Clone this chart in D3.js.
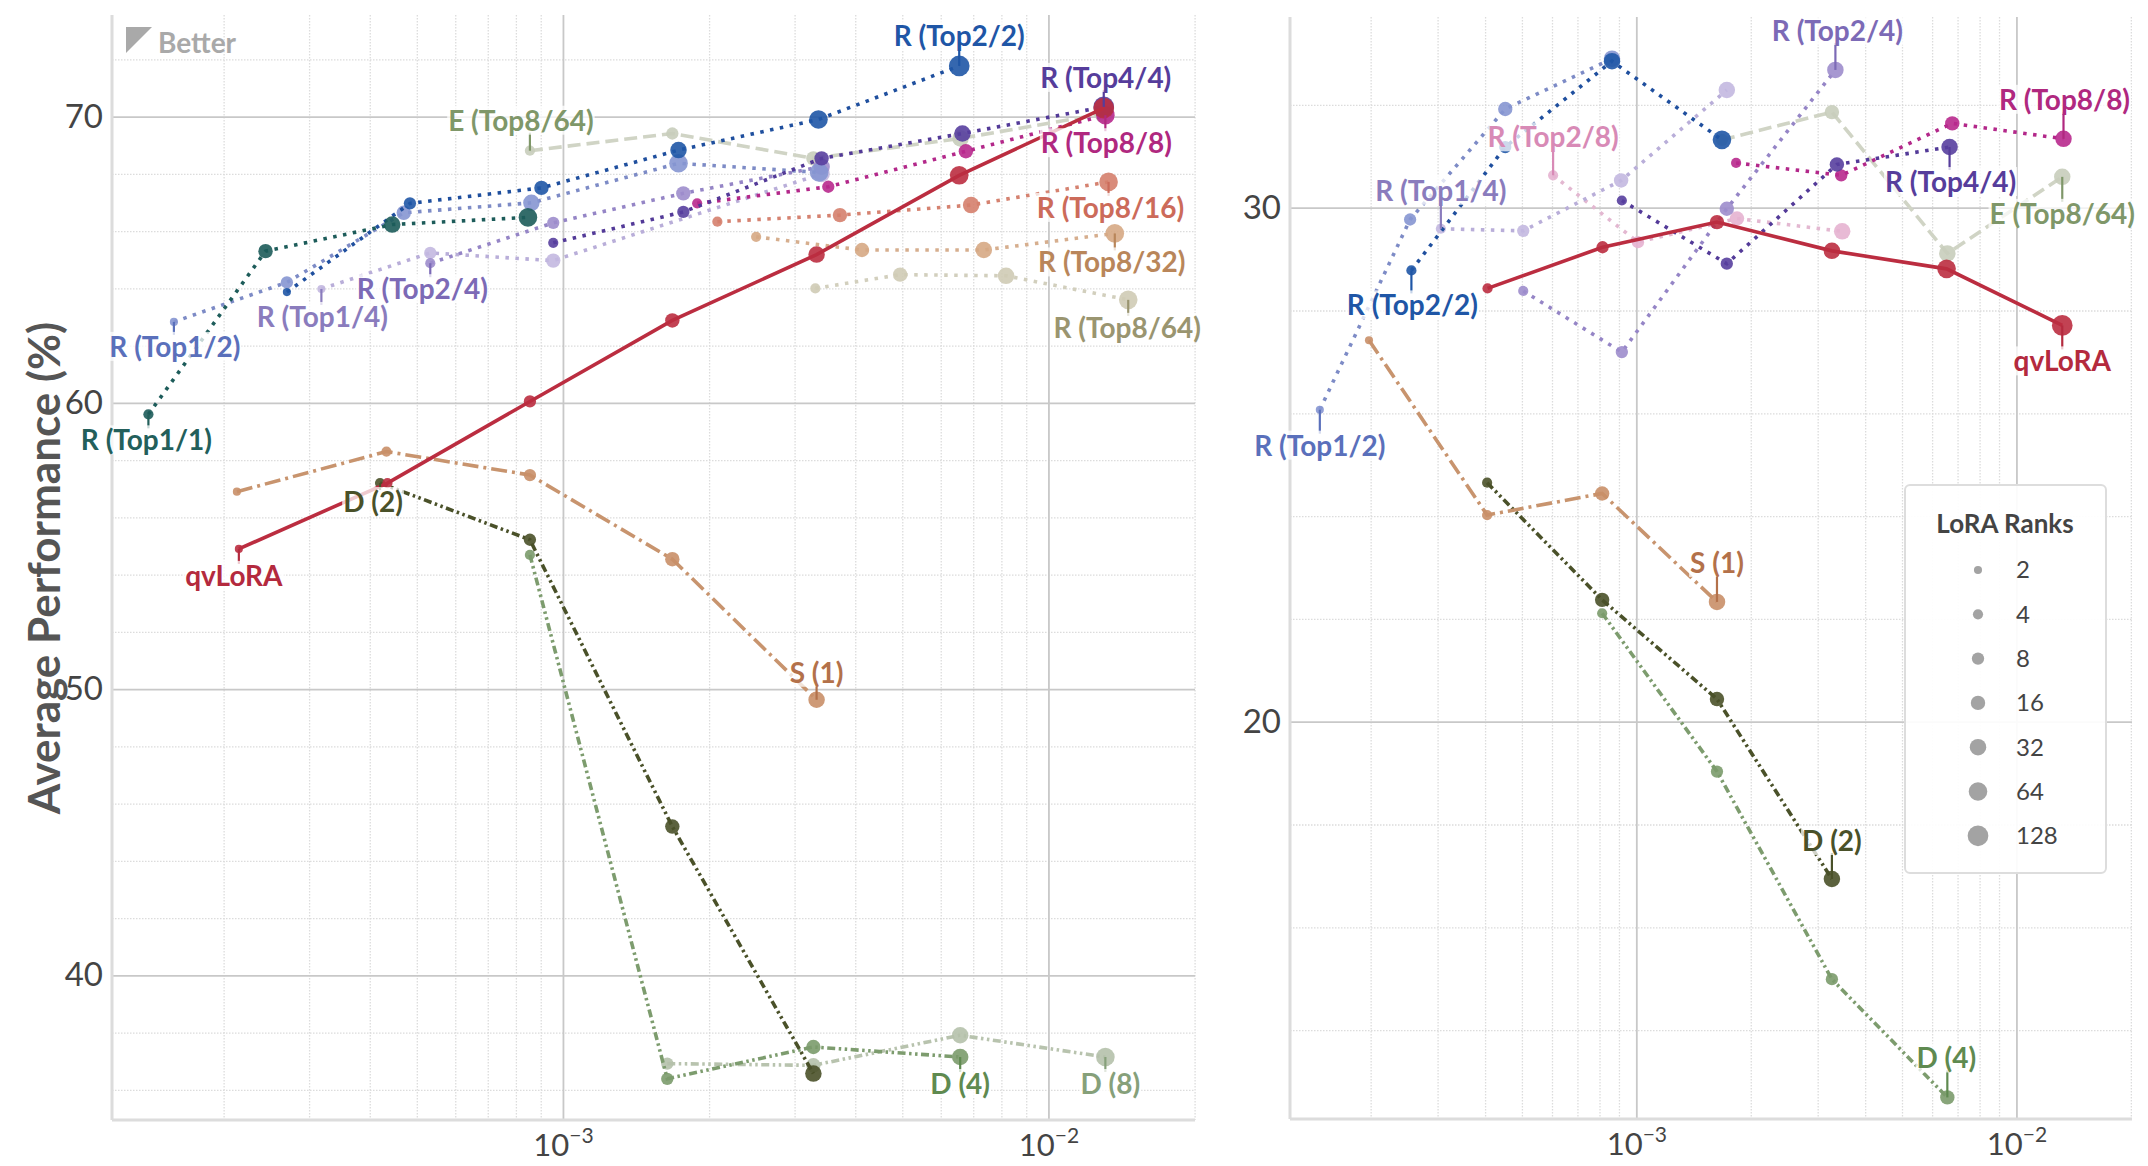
<!DOCTYPE html>
<html>
<head>
<meta charset="utf-8">
<script src="https://cdn.jsdelivr.net/npm/d3@7"></script>
<style>
  body { margin:0; background:#fff; }
  text { font-family: Lato, "Open Sans", sans-serif; }
</style>
</head>
<body>
<svg id="chart" width="2148" height="1166"></svg>
<script>
// points are [x, average performance, LoRA rank]
// ---- left panel ----
var L_qvLoRA = [[2.15e-4,54.9,2],[4.35e-4,57.2,4],[8.55e-4,60.05,8],[1.68e-3,62.88,16],[3.33e-3,65.18,32],[6.55e-3,67.95,64],[1.30e-2,70.3,128]];
var L_S1   = [[2.13e-4,56.9,2],[4.33e-4,58.3,4],[8.55e-4,57.48,8],[1.68e-3,54.54,16],[3.33e-3,49.63,32]];
var L_D2   = [[4.2e-4,57.2,4],[8.55e-4,55.22,8],[1.68e-3,45.2,16],[3.28e-3,36.57,32]];
var L_D4   = [[8.55e-4,54.69,4],[1.64e-3,36.39,8],[3.28e-3,37.5,16],[6.58e-3,37.15,32]];
var L_D8   = [[1.64e-3,36.92,8],[3.28e-3,36.86,16],[6.58e-3,37.91,32],[1.31e-2,37.15,64]];
var L_R1_1 = [[1.40e-4,59.6,4],[2.44e-4,65.3,16],[4.45e-4,66.23,32],[8.47e-4,66.48,64]];
var L_R1_2 = [[1.58e-4,62.83,2],[2.70e-4,64.21,8],[4.70e-4,66.64,16],[8.61e-4,66.99,32],[1.73e-3,68.37,64],[3.37e-3,68.05,64]];
var L_R2_2 = [[2.70e-4,63.87,2],[4.84e-4,66.97,8],[9.03e-4,67.51,16],[1.73e-3,68.83,32],[3.36e-3,69.9,64],[6.55e-3,71.77,128]];
var L_R1_4 = [[3.18e-4,63.98,2],[5.33e-4,65.24,8],[9.55e-4,64.97,16],[3.41e-3,68.0,32]];
var L_R2_4 = [[5.33e-4,64.88,4],[9.55e-4,66.29,8],[1.77e-3,67.32,16],[3.41e-3,68.25,32]];
var L_R4_4 = [[9.55e-4,65.59,4],[1.77e-3,66.67,8],[3.41e-3,68.54,16],[6.65e-3,69.41,32],[1.30e-2,70.34,128]];
var L_R8_8 = [[1.89e-3,66.97,4],[3.52e-3,67.55,8],[6.76e-3,68.79,16],[1.31e-2,70.05,64]];
var L_R8_16 = [[2.08e-3,66.33,4],[3.72e-3,66.56,16],[6.93e-3,66.91,32],[1.33e-2,67.72,64]];
var L_R8_32 = [[2.50e-3,65.8,4],[4.13e-3,65.34,16],[7.36e-3,65.34,32],[1.37e-2,65.92,64]];
var L_R8_64 = [[3.31e-3,64.0,4],[4.95e-3,64.48,16],[8.18e-3,64.44,32],[1.46e-2,63.6,64]];
var L_E8_64 = [[8.55e-4,68.81,4],[1.68e-3,69.41,8],[3.28e-3,68.54,16],[6.59e-3,69.24,32],[1.30e-2,70.1,64]];

// ---- right panel ----
var R_qvLoRA = [[4.06e-4,28.43,4],[8.15e-4,29.23,8],[1.63e-3,29.72,16],[3.27e-3,29.16,32],[6.55e-3,28.81,64],[1.32e-2,27.71,128]];
var R_S1   = [[1.98e-4,27.42,2],[4.05e-4,24.02,4],[8.13e-4,24.44,16],[1.63e-3,22.33,32]];
var R_D2   = [[4.05e-4,24.65,4],[8.13e-4,22.37,16],[1.63e-3,20.44,16],[3.27e-3,16.94,32]];
var R_D4   = [[8.13e-4,22.11,4],[1.63e-3,19.03,8],[3.27e-3,14.99,8],[6.58e-3,12.69,16]];
var R_R1_2 = [[1.47e-4,26.07,2],[2.54e-4,29.77,8],[4.52e-4,31.92,16],[8.63e-4,32.9,32]];
var R_R2_2 = [[2.56e-4,28.78,4],[4.52e-4,31.18,8],[8.63e-4,32.85,32],[1.68e-3,31.32,64]];
var R_R1_4 = [[3.06e-4,29.59,4],[5.04e-4,29.55,8],[9.12e-4,30.53,16],[1.73e-3,32.29,32]];
var R_R2_8 = [[6.04e-4,30.63,4],[1.01e-3,29.33,8],[1.84e-3,29.79,16],[3.48e-3,29.54,32]];
var R_R2_4 = [[5.04e-4,28.38,4],[9.16e-4,27.19,8],[1.73e-3,29.98,16],[3.34e-3,32.68,32]];
var R_R4_4 = [[9.16e-4,30.14,4],[1.73e-3,28.91,8],[3.37e-3,30.84,16],[6.67e-3,31.18,32]];
var R_R8_8 = [[1.83e-3,30.87,4],[3.46e-3,30.63,8],[6.78e-3,31.64,16],[1.33e-2,31.34,32]];
var R_E8_64 = [[1.68e-3,31.32,8],[3.27e-3,31.86,16],[6.58e-3,29.11,32],[1.32e-2,30.6,32]];

// ticks
var xTicks = [1e-3, 1e-2];
var leftYTicks = [40, 50, 60, 70];
var rightYTicks = [20, 30];
var legendRanks = [2, 4, 8, 16, 32, 64, 128];

// drawing order (back to front)
var leftSeries = [
  ["E (Top8/64)", L_E8_64], ["R (Top8/64)", L_R8_64], ["R (Top8/32)", L_R8_32], ["R (Top8/16)", L_R8_16],
  ["R (Top1/4)", L_R1_4], ["R (Top2/4)", L_R2_4], ["R (Top1/2)", L_R1_2], ["R (Top8/8)", L_R8_8],
  ["R (Top4/4)", L_R4_4], ["R (Top2/2)", L_R2_2], ["R (Top1/1)", L_R1_1],
  ["D (8)", L_D8], ["D (4)", L_D4], ["D (2)", L_D2], ["S (1)", L_S1], ["qvLoRA", L_qvLoRA]
];
var rightSeries = [
  ["E (Top8/64)", R_E8_64], ["R (Top2/8)", R_R2_8], ["R (Top1/4)", R_R1_4], ["R (Top2/4)", R_R2_4],
  ["R (Top1/2)", R_R1_2], ["R (Top8/8)", R_R8_8], ["R (Top4/4)", R_R4_4], ["R (Top2/2)", R_R2_2],
  ["D (4)", R_D4], ["D (2)", R_D2], ["S (1)", R_S1], ["qvLoRA", R_qvLoRA]
];

// label: series, point index, dx, dy (offset of text centre from the point)
var leftLabels = [
  ["R (Top2/2)",5,0,-30], ["R (Top4/4)",4,2,-29], ["R (Top8/8)",3,1,28], ["R (Top8/16)",3,2,26],
  ["R (Top8/32)",3,-3,29], ["R (Top8/64)",3,-1,28], ["E (Top8/64)",0,-9,-30], ["R (Top1/2)",0,1,25],
  ["R (Top1/1)",0,-2,26], ["R (Top1/4)",0,1,28], ["R (Top2/4)",0,-8,26], ["D (2)",0,-7,19],
  ["qvLoRA",0,-5,27], ["S (1)",4,0,-27], ["D (4)",3,0,27], ["D (8)",3,5,27]
];
var rightLabels = [
  ["R (Top1/2)",0,0,36], ["R (Top2/2)",0,1,35], ["R (Top1/4)",0,0,-38], ["R (Top2/8)",0,0,-38],
  ["R (Top2/4)",3,2,-39], ["R (Top8/8)",3,1,-39], ["R (Top4/4)",3,1,35], ["E (Top8/64)",3,0,37],
  ["qvLoRA",5,0,36], ["S (1)",3,0,-39], ["D (2)",3,0,-38], ["D (4)",3,-1,-39]
];

var DOT = "3.5,6.5", DASH = "13,6", DASHDOT = "16,5,3,5", DDD = "8,3.5,2.5,3.5,2.5,3.5";
var styles = {
  "qvLoRA":      {line:"#bb2d40", dot:"#bb2d40", text:"#b42a3e", dash:null},
  "R (Top1/1)":  {line:"#1d5c5a", dot:"#1d5c5a", text:"#235f5b", dash:DOT},
  "R (Top1/2)":  {line:"#7d8bc6", dot:"#8696d2", text:"#5a70bb", dash:DOT},
  "R (Top2/2)":  {line:"#1f4f9e", dot:"#1f56a6", text:"#1f56a6", dash:DOT},
  "R (Top1/4)":  {line:"#b9aed9", dot:"#c3b8e0", text:"#8a7cbd", dash:DOT},
  "R (Top2/4)":  {line:"#9585c6", dot:"#9d8dcc", text:"#7c6ab6", dash:DOT},
  "R (Top4/4)":  {line:"#533a98", dot:"#583f9e", text:"#563d9b", dash:DOT},
  "R (Top2/8)":  {line:"#e3b8d1", dot:"#e6b3d0", text:"#d88ab6", dash:DOT},
  "R (Top8/8)":  {line:"#b3288a", dot:"#b8298d", text:"#b0287f", dash:DOT},
  "R (Top8/16)": {line:"#d58270", dot:"#d5806d", text:"#cc6b5a", dash:DOT},
  "R (Top8/32)": {line:"#d6ae8e", dot:"#d6a884", text:"#b9865a", dash:DOT},
  "R (Top8/64)": {line:"#d2cfbd", dot:"#cfcbb5", text:"#9a9570", dash:DOT},
  "E (Top8/64)": {line:"#d0d4c5", dot:"#c8cdbb", text:"#7f9769", dash:DASH},
  "S (1)":       {line:"#c8946e", dot:"#c98f68", text:"#b3714a", dash:DASHDOT},
  "D (2)":       {line:"#4a5129", dot:"#4a5129", text:"#4a5129", dash:DDD},
  "D (4)":       {line:"#7d9c6e", dot:"#7b9b6b", text:"#5f8a50", dash:DDD},
  "D (8)":       {line:"#b8c3ae", dot:"#b5c1ab", text:"#86a07a", dash:DDD}
};

var svg = d3.select("#chart");
var rScale = d3.scaleLinear().domain([1, 7]).range([4.05, 10.35]);

function panel(opt) {
  var w = opt.right - opt.left, h = opt.bottom - opt.top;
  var g = svg.append("g").attr("transform", "translate(" + opt.left + "," + opt.top + ")");
  var x = d3.scaleLog().domain(opt.xDomain).range([0, w]);
  var y = d3.scaleLinear().domain(opt.yDomain).range([h, 0]);

  var isPow = function(v) { var l = Math.log10(v); return Math.abs(l - Math.round(l)) < 1e-6; };
  var xMinor = x.ticks().filter(function(v) { return !isPow(v); });
  var yMinor = d3.range(Math.ceil(opt.yDomain[0] / 2) * 2, opt.yDomain[1], 2).filter(function(v) { return v % 10 !== 0; });

  // minor grid
  g.append("g").call(d3.axisBottom(x).tickValues(xMinor).tickSize(h).tickFormat(""))
    .call(function(a) { a.select(".domain").remove(); })
    .selectAll("line").attr("stroke", "#dcdcdc").attr("stroke-width", 1.3).attr("stroke-dasharray", "1.5,1.5");
  g.append("g").call(d3.axisRight(y).tickValues(yMinor).tickSize(w).tickFormat(""))
    .call(function(a) { a.select(".domain").remove(); })
    .selectAll("line").attr("stroke", "#dcdcdc").attr("stroke-width", 1.3).attr("stroke-dasharray", "1.5,1.5");
  // major grid
  g.append("g").call(d3.axisBottom(x).tickValues(xTicks).tickSize(h).tickFormat(""))
    .call(function(a) { a.select(".domain").remove(); })
    .selectAll("line").attr("stroke", "#c8c8c8").attr("stroke-width", 1.8);
  g.append("g").call(d3.axisRight(y).tickValues(opt.yTicks).tickSize(w).tickFormat(""))
    .call(function(a) { a.select(".domain").remove(); })
    .selectAll("line").attr("stroke", "#c8c8c8").attr("stroke-width", 1.8);

  // spines
  g.append("line").attr("x1", 0).attr("x2", 0).attr("y1", 0).attr("y2", h).attr("stroke", "#dcdcdc").attr("stroke-width", 3);
  g.append("line").attr("x1", 0).attr("x2", w).attr("y1", h).attr("y2", h).attr("stroke", "#dcdcdc").attr("stroke-width", 3);

  // tick labels
  var ya = g.append("g").call(d3.axisLeft(y).tickValues(opt.yTicks).tickSize(0).tickPadding(9));
  ya.select(".domain").remove();
  ya.selectAll("text").attr("font-size", 33).attr("fill", "#444").attr("font-family", "Lato, sans-serif");

  var xa = g.append("g").attr("transform", "translate(0," + h + ")")
    .call(d3.axisBottom(x).tickValues(xTicks).tickSize(0).tickFormat(""));
  xa.select(".domain").remove();
  xa.selectAll(".tick").append("text")
    .attr("y", 36).attr("fill", "#444").attr("text-anchor", "middle").attr("font-size", 31)
    .each(function(d) {
      var t = d3.select(this);
      t.append("tspan").text("10");
      t.append("tspan").attr("dy", -13).attr("font-size", 21).text("\u2212" + Math.round(-Math.log10(d)));
    });

  var line = d3.line().x(function(d) { return x(d[0]); }).y(function(d) { return y(d[1]); });
  var byName = {};
  opt.series.forEach(function(s) {
    var st = styles[s[0]];
    byName[s[0]] = s[1];
    g.append("path").datum(s[1]).attr("d", line)
      .attr("fill", "none").attr("stroke", st.line)
      .attr("stroke-width", st.dash ? 3.6 : 3.6)
      .attr("stroke-dasharray", st.dash);
    g.append("g").selectAll("circle").data(s[1]).enter().append("circle")
      .attr("cx", function(d) { return x(d[0]); })
      .attr("cy", function(d) { return y(d[1]); })
      .attr("r", function(d) { return rScale(Math.log2(d[2])); })
      .attr("fill", st.dot).attr("fill-opacity", 0.9);
  });

  // labels with leader lines
  opt.labels.forEach(function(lb) {
    var st = styles[lb[0]], p = byName[lb[0]][lb[1]];
    var px = x(p[0]), py = y(p[1]), cx = px + lb[2], cy = py + lb[3];
    var lg = g.append("g");
    var bg = lg.append("rect");
    var t = lg.append("text").attr("x", cx).attr("y", cy + 10).attr("text-anchor", "middle")
      .attr("font-size", 28).attr("font-weight", 700).attr("fill", st.text).text(lb[0]);
    var bb = t.node().getBBox();
    bg.attr("x", bb.x - 1).attr("y", bb.y + 3).attr("width", bb.width + 2).attr("height", bb.height - 5)
      .attr("fill", "#fff").attr("fill-opacity", 0.75);
    var endY = lb[3] < 0 ? cy + 12 : cy - 12;
    lg.insert("line", "rect").attr("x1", px).attr("x2", px).attr("y1", py).attr("y2", endY)
      .attr("stroke", st.text).attr("stroke-width", 2.2);
  });
  return {g: g, x: x, y: y, w: w, h: h};
}

var left = panel({
  left: 112, right: 1195, top: 15, bottom: 1120,
  xDomain: [1.178e-4, 2.004e-2], yDomain: [34.95, 73.55], yTicks: leftYTicks,
  series: leftSeries, labels: leftLabels
});
var right = panel({
  left: 1290, right: 2132, top: 17, bottom: 1119,
  xDomain: [1.227e-4, 2.014e-2], yDomain: [12.27, 33.71], yTicks: rightYTicks,
  series: rightSeries, labels: rightLabels
});

// "Better" marker
left.g.append("path").attr("d", "M14,12L40,12L14,38Z").attr("fill", "#a9a9a9");
left.g.append("text").attr("x", 46).attr("y", 38).attr("font-size", 28).attr("font-weight", 700)
  .attr("fill", "#a9a9a9").text("Better");

// y axis title
svg.append("text").attr("transform", "translate(60,568) rotate(-90)").attr("text-anchor", "middle")
  .attr("font-size", 44).attr("font-weight", 700).attr("fill", "#555").text("Average Performance (%)");

// legend
var lgd = right.g.append("g").attr("transform", "translate(" + (1905 - 1290) + "," + (485 - 17) + ")");
lgd.append("rect").attr("width", 201).attr("height", 388).attr("rx", 5)
  .attr("fill", "#fff").attr("fill-opacity", 0.92).attr("stroke", "#dddddd").attr("stroke-width", 2);
lgd.append("text").attr("x", 100).attr("y", 48).attr("text-anchor", "middle").attr("font-size", 26)
  .attr("font-weight", 700).attr("fill", "#444").text("LoRA Ranks");
var items = lgd.selectAll(".it").data(legendRanks).enter().append("g")
  .attr("transform", function(d, i) { return "translate(0," + (85 + i * 44.3) + ")"; });
items.append("circle").attr("cx", 73).attr("r", function(d) { return rScale(Math.log2(d)); }).attr("fill", "#a3a3a3");
items.append("text").attr("x", 111).attr("dy", "0.35em").attr("font-size", 24).attr("fill", "#444").text(function(d) { return d; });
</script>
</body>
</html>
